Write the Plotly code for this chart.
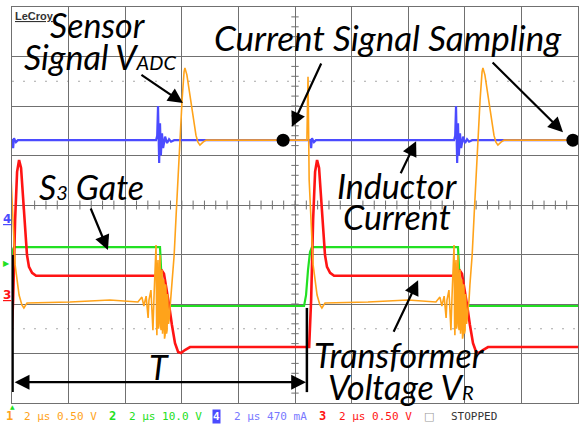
import plotly.graph_objects as go

# ---- timebase: 2 us/div, 10 divisions; vertical: 8 divisions ----
T_RANGE = [0, 20]
V_RANGE = [-4, 4]

# start time (us) of each switching period on screen
PERIOD_STARTS = [-0.07, 10.46]

# channel 3 (red) - transformer voltage, one period: offset (us), level (div)
CH3_T = [0.00, 0.04, 0.11, 0.18, 0.25, 0.32, 0.39, 0.46, 0.53, 0.60, 0.67, 0.78, 0.92,
         5.23, 5.30, 5.37, 5.44, 5.51, 5.62, 5.72, 5.83, 5.94, 6.04, 6.18, 6.36, 10.53]
CH3_V = [-2.87, -2.87, -1.92, -0.30, 0.67, 0.91, 0.75, 0.20, -0.46, -1.01, -1.25, -1.37, -1.43,
         -1.43, -1.37, -1.33, -1.39, -1.62, -2.02, -2.42, -2.79, -2.97, -2.99, -2.93, -2.87, -2.87]

# channel 2 (green) - S3 gate
CH2_T = [-0.14, -0.07, 0.00, 0.07, 0.14, 5.30, 5.34, 5.37, 10.39]
CH2_V = [-2.04, -1.82, -1.31, -0.95, -0.85, -0.85, -1.31, -2.04, -2.04]

# channel 1 (orange) - sensor signal V_ADC, with the ringing burst at turn-off
CH1_T = [-0.04, 0.00, 0.04, 0.11, 0.18, 0.32, 0.42, 0.49, 0.60, 2.12, 3.53, 4.52,
         4.66, 4.73, 4.81, 4.88, 4.91, 4.98, 5.05, 5.09, 5.16, 5.18, 5.19, 5.21, 5.23,
         5.25, 5.27, 5.29, 5.30, 5.32, 5.34, 5.36, 5.37, 5.39, 5.41, 5.43, 5.44, 5.46,
         5.48, 5.50, 5.51, 5.53, 5.55, 5.57, 5.58, 5.60, 5.62, 5.65, 5.69,
         5.72, 5.80, 5.87, 5.94, 6.01, 6.08, 6.15, 6.18, 6.25, 6.36, 6.47, 6.57,
         6.64, 6.71, 6.82, 6.93, 10.49]
CH1_V = [1.31, 2.59, 0.51, -0.51, -1.21, -1.82, -2.02, -2.08, -1.98, -1.96, -1.92, -1.96,
         -1.86, -2.04, -1.84, -2.28, -1.92, -1.72, -2.53, -1.82, -0.81, -2.40, -2.63, -1.30, -1.11,
         -2.50, -2.32, -1.20, -1.01, -2.45, -2.53, -1.40, -1.31, -2.60, -2.42, -1.50, -1.62, -2.70,
         -2.63, -1.60, -1.72, -2.60, -2.53, -1.80, -1.92, -2.40, -2.32, -2.12, -1.92,
         -1.62, -1.01, -0.20, 0.61, 1.52, 2.12, 2.69, 2.77, 2.63, 2.22, 1.76, 1.41,
         1.27, 1.21, 1.27, 1.31, 1.31]

# channel 4 (blue) - inductor current
CH4_T = [0.00, 0.07, 0.11, 0.14, 0.21, 0.28, 5.16, 5.20, 5.23, 5.25, 5.27, 5.30, 5.33,
         5.37, 5.41, 5.48, 5.55, 5.62, 5.69, 5.80, 10.53]
CH4_V = [1.31, 1.31, 1.15, 1.35, 1.27, 1.31, 1.31, 1.40, 2.00, 1.20, 0.85, 1.65, 1.00,
         1.45, 1.15, 1.38, 1.25, 1.33, 1.28, 1.31, 1.31]

# current-signal sampling instants
SAMPLE_T = [9.58, 19.82]
SAMPLE_V = [1.31, 1.31]

ORANGE = "#ffa31a"
GREEN = "#22e022"
BLUE = "#4b4bff"
RED = "#ff1414"
GRID = "#707070"

W, H = 579, 426
X0, X1 = 12, 578      # plot area in pixels
Y0, Y1 = 7, 403


def repeat(offsets, values):
    xs, ys = [], []
    for s in PERIOD_STARTS:
        xs += [s + o for o in offsets]
        ys += list(values)
    return xs, ys


fig = go.Figure()
for (ts, vs, col, w) in [(CH4_T, CH4_V, BLUE, 2.2),
                         (CH2_T, CH2_V, GREEN, 2.2),
                         (CH3_T, CH3_V, RED, 2.6),
                         (CH1_T, CH1_V, ORANGE, 1.6)]:
    xs, ys = repeat(ts, vs)
    fig.add_trace(go.Scatter(x=xs, y=ys, mode="lines",
                             line=dict(color=col, width=w), hoverinfo="skip"))

fig.add_trace(go.Scatter(x=SAMPLE_T, y=SAMPLE_V, mode="markers",
                         marker=dict(color="black", size=13), hoverinfo="skip",
                         cliponaxis=False))

shapes = []
# dotted graticule lines at +/-2.5 div
for v in (2.5, -2.5):
    shapes.append(dict(type="line", xref="x", yref="y", x0=0, x1=20, y0=v, y1=v,
                       line=dict(color="#a8a8a8", width=1, dash="2px,9px"), layer="below"))
# minor ticks on the centre cross
for i in range(1, 40):
    v = -4 + i * 0.2
    shapes.append(dict(type="line", xref="x", yref="y", x0=10 - 0.13, x1=10 + 0.13,
                       y0=v, y1=v, line=dict(color=GRID, width=1), layer="below"))
for i in range(1, 50):
    t = i * 0.4
    shapes.append(dict(type="line", xref="x", yref="y", x0=t, x1=t,
                       y0=-0.09, y1=0.09, line=dict(color=GRID, width=1), layer="below"))
# period markers for T
shapes.append(dict(type="line", xref="x", yref="y", x0=0.02, x1=0.02, y0=-1.01, y1=-3.78,
                   line=dict(color="black", width=2.5)))
shapes.append(dict(type="line", xref="x", yref="y", x0=10.42, x1=10.42, y0=-2.08, y1=-3.78,
                   line=dict(color="black", width=2.5)))

ann = []
TXT = dict(family="Lato, 'Open Sans', sans-serif", size=34, color="black")


def label(text, t, v, size=34):
    f = dict(TXT)
    f["size"] = size
    ann.append(dict(text="<i>%s</i>" % text, x=t, y=v, xref="x", yref="y",
                    showarrow=False, xanchor="center", yanchor="middle", font=f))


def arrow(t0, v0, t1, v1, both=False):
    a = dict(text="", x=t1, y=v1, ax=t0, ay=v0, xref="x", yref="y", axref="x", ayref="y",
             showarrow=True, arrowhead=2, arrowsize=1.35, arrowwidth=2.2,
             arrowcolor="black", standoff=0)
    if both:
        a.update(arrowside="end+start", startarrowhead=2, startarrowsize=1.35)
    ann.append(a)


small = '<span style="font-size:20px">%s</span>'
label("Sensor", 3.04, 3.64)
label("Signal V" + small % "ADC", 3.11, 3.01)
label("Current Signal Sampling", 13.29, 3.39, size=35)
label("S" + small % "3" + " Gate", 2.81, 0.38)
label("Inductor", 13.62, 0.40)
label("Current", 13.59, -0.24)
label("T", 5.19, -3.26)
label("Transformer", 13.71, -3.03)
label("Voltage V" + small % "R", 13.75, -3.67)

arrow(4.52, 2.65, 6.04, 2.06)
arrow(10.95, 2.89, 9.89, 1.58)
arrow(16.93, 2.91, 19.47, 1.47)
arrow(2.76, -0.04, 3.39, -0.91)
arrow(13.71, 0.61, 14.28, 1.29)
arrow(13.46, -2.59, 14.35, -1.52)
arrow(0.04, -3.58, 10.39, -3.58, both=True)


def px(x, y, text, color, size=11, anchor="left", family="DejaVu Sans Mono", **kw):
    ann.append(dict(text=text, x=x / W, y=1 - y / H, xref="paper", yref="paper",
                    showarrow=False, xanchor=anchor, yanchor="middle",
                    font=dict(family=family, size=size, color=color), **kw))


# scope logo
px(13, 16, "<b><u>LeCroy</u></b>", "#333333", size=11, family="Liberation Sans Narrow, Arial Narrow, sans-serif")
# channel ground markers
px(7, 219, "<b><u>4</u></b>", BLUE, size=12, anchor="center", family="DejaVu Sans")
px(6, 263, "▶", GREEN, size=8, anchor="center", family="DejaVu Sans")
px(7, 295, "<b><u>3</u></b>", RED, size=12, anchor="center", family="DejaVu Sans")

# status line
px(12, 406, "▲", GREEN, size=6, anchor="center", family="DejaVu Sans")
px(4, 416, "<b>1</b>", ORANGE, size=12)
px(22, 416, "2 μs 0.50 V", ORANGE)
px(107, 416, "<b>2</b>", GREEN, size=12)
px(127, 416, "2 μs 10.0 V", GREEN)
px(212, 416, "<b>4</b>", "white", size=11, bgcolor=BLUE, borderpad=0)
px(232, 416, "2 μs 470 mA", "#7878ff")
px(317, 416, "<b>3</b>", RED, size=12)
px(337, 416, "2 μs 0.50 V", RED)
px(422, 416, "□", "#999999", size=11, family="DejaVu Sans")
px(449, 416, "STOPPED", "#333333")

axis_common = dict(showgrid=True, gridcolor=GRID, gridwidth=1, zeroline=False,
                   showticklabels=False, ticks="", showline=True, mirror=True,
                   linecolor=GRID, linewidth=1, fixedrange=True)

fig.update_layout(
    width=W, height=H, margin=dict(l=0, r=0, t=0, b=0),
    paper_bgcolor="white", plot_bgcolor="white", showlegend=False,
    xaxis=dict(range=T_RANGE, dtick=2, domain=[X0 / W, X1 / W], **axis_common),
    yaxis=dict(range=V_RANGE, dtick=1, domain=[1 - Y1 / H, 1 - Y0 / H], **axis_common),
    shapes=shapes, annotations=ann,
)

fig.write_html("out.html")
